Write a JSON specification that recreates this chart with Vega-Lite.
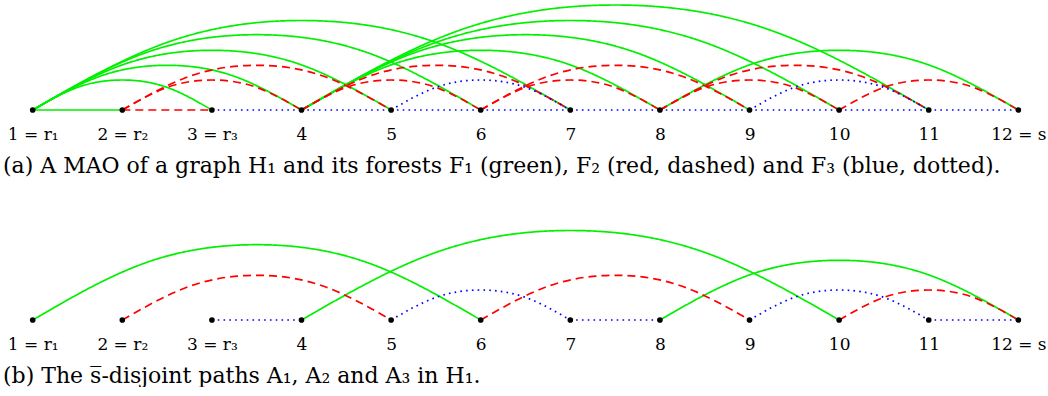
{
  "$schema": "https://vega.github.io/schema/vega-lite/v6.json",
  "padding": 0,
  "spacing": 33,
  "background": "white",
  "config": {
    "view": {"stroke": null},
    "title": {"font": "DejaVu Serif", "fontSize": 22, "fontWeight": "normal", "color": "black", "anchor": "start", "orient": "bottom", "offset": 14, "dx": 3}
  },
  "datasets": {
    "nodes": [{"n":1},{"n":2},{"n":3},{"n":4},{"n":5},{"n":6},{"n":7},{"n":8},{"n":9},{"n":10},{"n":11},{"n":12}],
    "edgesA": [
      {"edge":"1-2","f":"F1","x":1,"h":0},{"edge":"1-2","f":"F1","x":2,"h":0},
      {"edge":"1-3","f":"F1","x":1,"h":0},{"edge":"1-3","f":"F1","x":1.5,"h":22.6},{"edge":"1-3","f":"F1","x":2,"h":30},{"edge":"1-3","f":"F1","x":2.5,"h":22.6},{"edge":"1-3","f":"F1","x":3,"h":0},
      {"edge":"1-4","f":"F1","x":1,"h":0},{"edge":"1-4","f":"F1","x":1.75,"h":33.7},{"edge":"1-4","f":"F1","x":2.5,"h":44.7},{"edge":"1-4","f":"F1","x":3.25,"h":33.7},{"edge":"1-4","f":"F1","x":4,"h":0},
      {"edge":"1-5","f":"F1","x":1,"h":0},{"edge":"1-5","f":"F1","x":2,"h":45.1},{"edge":"1-5","f":"F1","x":3,"h":59.7},{"edge":"1-5","f":"F1","x":4,"h":45.1},{"edge":"1-5","f":"F1","x":5,"h":0},
      {"edge":"1-6","f":"F1","x":1,"h":0},{"edge":"1-6","f":"F1","x":2.25,"h":56.9},{"edge":"1-6","f":"F1","x":3.5,"h":75.3},{"edge":"1-6","f":"F1","x":4.75,"h":56.9},{"edge":"1-6","f":"F1","x":6,"h":0},
      {"edge":"1-7","f":"F1","x":1,"h":0},{"edge":"1-7","f":"F1","x":2.5,"h":67.6},{"edge":"1-7","f":"F1","x":4,"h":89.5},{"edge":"1-7","f":"F1","x":5.5,"h":67.6},{"edge":"1-7","f":"F1","x":7,"h":0},
      {"edge":"4-8","f":"F1","x":4,"h":0},{"edge":"4-8","f":"F1","x":5,"h":45.1},{"edge":"4-8","f":"F1","x":6,"h":59.7},{"edge":"4-8","f":"F1","x":7,"h":45.1},{"edge":"4-8","f":"F1","x":8,"h":0},
      {"edge":"4-9","f":"F1","x":4,"h":0},{"edge":"4-9","f":"F1","x":5.25,"h":56.9},{"edge":"4-9","f":"F1","x":6.5,"h":75.3},{"edge":"4-9","f":"F1","x":7.75,"h":56.9},{"edge":"4-9","f":"F1","x":9,"h":0},
      {"edge":"4-10","f":"F1","x":4,"h":0},{"edge":"4-10","f":"F1","x":5.5,"h":67.6},{"edge":"4-10","f":"F1","x":7,"h":89.5},{"edge":"4-10","f":"F1","x":8.5,"h":67.6},{"edge":"4-10","f":"F1","x":10,"h":0},
      {"edge":"4-11","f":"F1","x":4,"h":0},{"edge":"4-11","f":"F1","x":5.75,"h":79.3},{"edge":"4-11","f":"F1","x":7.5,"h":105},{"edge":"4-11","f":"F1","x":9.25,"h":79.3},{"edge":"4-11","f":"F1","x":11,"h":0},
      {"edge":"8-12","f":"F1","x":8,"h":0},{"edge":"8-12","f":"F1","x":9,"h":45.1},{"edge":"8-12","f":"F1","x":10,"h":59.7},{"edge":"8-12","f":"F1","x":11,"h":45.1},{"edge":"8-12","f":"F1","x":12,"h":0},
      {"edge":"2-3","f":"F2","x":2,"h":0},{"edge":"2-3","f":"F2","x":3,"h":0},
      {"edge":"2-4","f":"F2","x":2,"h":0},{"edge":"2-4","f":"F2","x":2.5,"h":22.6},{"edge":"2-4","f":"F2","x":3,"h":30},{"edge":"2-4","f":"F2","x":3.5,"h":22.6},{"edge":"2-4","f":"F2","x":4,"h":0},
      {"edge":"2-5","f":"F2","x":2,"h":0},{"edge":"2-5","f":"F2","x":2.75,"h":33.7},{"edge":"2-5","f":"F2","x":3.5,"h":44.7},{"edge":"2-5","f":"F2","x":4.25,"h":33.7},{"edge":"2-5","f":"F2","x":5,"h":0},
      {"edge":"4-6","f":"F2","x":4,"h":0},{"edge":"4-6","f":"F2","x":4.5,"h":22.6},{"edge":"4-6","f":"F2","x":5,"h":30},{"edge":"4-6","f":"F2","x":5.5,"h":22.6},{"edge":"4-6","f":"F2","x":6,"h":0},
      {"edge":"4-7","f":"F2","x":4,"h":0},{"edge":"4-7","f":"F2","x":4.75,"h":33.7},{"edge":"4-7","f":"F2","x":5.5,"h":44.7},{"edge":"4-7","f":"F2","x":6.25,"h":33.7},{"edge":"4-7","f":"F2","x":7,"h":0},
      {"edge":"6-8","f":"F2","x":6,"h":0},{"edge":"6-8","f":"F2","x":6.5,"h":22.6},{"edge":"6-8","f":"F2","x":7,"h":30},{"edge":"6-8","f":"F2","x":7.5,"h":22.6},{"edge":"6-8","f":"F2","x":8,"h":0},
      {"edge":"6-9","f":"F2","x":6,"h":0},{"edge":"6-9","f":"F2","x":6.75,"h":33.7},{"edge":"6-9","f":"F2","x":7.5,"h":44.7},{"edge":"6-9","f":"F2","x":8.25,"h":33.7},{"edge":"6-9","f":"F2","x":9,"h":0},
      {"edge":"8-10","f":"F2","x":8,"h":0},{"edge":"8-10","f":"F2","x":8.5,"h":22.6},{"edge":"8-10","f":"F2","x":9,"h":30},{"edge":"8-10","f":"F2","x":9.5,"h":22.6},{"edge":"8-10","f":"F2","x":10,"h":0},
      {"edge":"8-11","f":"F2","x":8,"h":0},{"edge":"8-11","f":"F2","x":8.75,"h":33.7},{"edge":"8-11","f":"F2","x":9.5,"h":44.7},{"edge":"8-11","f":"F2","x":10.25,"h":33.7},{"edge":"8-11","f":"F2","x":11,"h":0},
      {"edge":"10-12","f":"F2","x":10,"h":0},{"edge":"10-12","f":"F2","x":10.5,"h":22.6},{"edge":"10-12","f":"F2","x":11,"h":30},{"edge":"10-12","f":"F2","x":11.5,"h":22.6},{"edge":"10-12","f":"F2","x":12,"h":0},
      {"edge":"3-4","f":"F3","x":3,"h":0},{"edge":"3-4","f":"F3","x":4,"h":0},
      {"edge":"4-5","f":"F3","x":4,"h":0},{"edge":"4-5","f":"F3","x":5,"h":0},
      {"edge":"5-6","f":"F3","x":5,"h":0},{"edge":"5-6","f":"F3","x":6,"h":0},
      {"edge":"6-7","f":"F3","x":6,"h":0},{"edge":"6-7","f":"F3","x":7,"h":0},
      {"edge":"7-8","f":"F3","x":7,"h":0},{"edge":"7-8","f":"F3","x":8,"h":0},
      {"edge":"8-9","f":"F3","x":8,"h":0},{"edge":"8-9","f":"F3","x":9,"h":0},
      {"edge":"9-10","f":"F3","x":9,"h":0},{"edge":"9-10","f":"F3","x":10,"h":0},
      {"edge":"10-11","f":"F3","x":10,"h":0},{"edge":"10-11","f":"F3","x":11,"h":0},
      {"edge":"11-12","f":"F3","x":11,"h":0},{"edge":"11-12","f":"F3","x":12,"h":0},
      {"edge":"5-7","f":"F3","x":5,"h":0},{"edge":"5-7","f":"F3","x":5.5,"h":22.6},{"edge":"5-7","f":"F3","x":6,"h":30},{"edge":"5-7","f":"F3","x":6.5,"h":22.6},{"edge":"5-7","f":"F3","x":7,"h":0},
      {"edge":"9-11","f":"F3","x":9,"h":0},{"edge":"9-11","f":"F3","x":9.5,"h":22.6},{"edge":"9-11","f":"F3","x":10,"h":30},{"edge":"9-11","f":"F3","x":10.5,"h":22.6},{"edge":"9-11","f":"F3","x":11,"h":0}
    ],
    "edgesB": [
      {"edge":"1-6","f":"F1","x":1,"h":0},{"edge":"1-6","f":"F1","x":2.25,"h":56.9},{"edge":"1-6","f":"F1","x":3.5,"h":75.3},{"edge":"1-6","f":"F1","x":4.75,"h":56.9},{"edge":"1-6","f":"F1","x":6,"h":0},
      {"edge":"4-10","f":"F1","x":4,"h":0},{"edge":"4-10","f":"F1","x":5.5,"h":67.6},{"edge":"4-10","f":"F1","x":7,"h":89.5},{"edge":"4-10","f":"F1","x":8.5,"h":67.6},{"edge":"4-10","f":"F1","x":10,"h":0},
      {"edge":"8-12","f":"F1","x":8,"h":0},{"edge":"8-12","f":"F1","x":9,"h":45.1},{"edge":"8-12","f":"F1","x":10,"h":59.7},{"edge":"8-12","f":"F1","x":11,"h":45.1},{"edge":"8-12","f":"F1","x":12,"h":0},
      {"edge":"2-5","f":"F2","x":2,"h":0},{"edge":"2-5","f":"F2","x":2.75,"h":33.7},{"edge":"2-5","f":"F2","x":3.5,"h":44.7},{"edge":"2-5","f":"F2","x":4.25,"h":33.7},{"edge":"2-5","f":"F2","x":5,"h":0},
      {"edge":"6-9","f":"F2","x":6,"h":0},{"edge":"6-9","f":"F2","x":6.75,"h":33.7},{"edge":"6-9","f":"F2","x":7.5,"h":44.7},{"edge":"6-9","f":"F2","x":8.25,"h":33.7},{"edge":"6-9","f":"F2","x":9,"h":0},
      {"edge":"10-12","f":"F2","x":10,"h":0},{"edge":"10-12","f":"F2","x":10.5,"h":22.6},{"edge":"10-12","f":"F2","x":11,"h":30},{"edge":"10-12","f":"F2","x":11.5,"h":22.6},{"edge":"10-12","f":"F2","x":12,"h":0},
      {"edge":"3-4","f":"F3","x":3,"h":0},{"edge":"3-4","f":"F3","x":4,"h":0},
      {"edge":"7-8","f":"F3","x":7,"h":0},{"edge":"7-8","f":"F3","x":8,"h":0},
      {"edge":"11-12","f":"F3","x":11,"h":0},{"edge":"11-12","f":"F3","x":12,"h":0},
      {"edge":"5-7","f":"F3","x":5,"h":0},{"edge":"5-7","f":"F3","x":5.5,"h":22.6},{"edge":"5-7","f":"F3","x":6,"h":30},{"edge":"5-7","f":"F3","x":6.5,"h":22.6},{"edge":"5-7","f":"F3","x":7,"h":0},
      {"edge":"9-11","f":"F3","x":9,"h":0},{"edge":"9-11","f":"F3","x":9.5,"h":22.6},{"edge":"9-11","f":"F3","x":10,"h":30},{"edge":"9-11","f":"F3","x":10.5,"h":22.6},{"edge":"9-11","f":"F3","x":11,"h":0}
    ]
  },
  "vconcat": [
    {
      "width": 1048,
      "height": 110,
      "title": {"text": "(a) A MAO of a graph H₁ and its forests F₁ (green), F₂ (red, dashed) and F₃ (blue, dotted)."},
      "layer": [
        {
          "data": {"name": "edgesA"},
          "mark": {"type": "line", "interpolate": "natural", "strokeWidth": 1.7, "clip": false},
          "encoding": {
            "x": {"field": "x", "type": "quantitative", "scale": {"domain": [0.635, 12.331], "nice": false, "zero": false},
                  "axis": {"values": [1,2,3,4,5,6,7,8,9,10,11,12], "format": "d", "title": null, "domain": false, "ticks": false, "grid": false, "labelFont": "DejaVu Serif", "labelFontSize": 17, "labelColor": "black", "labelPadding": 16, "labelFlush": false, "labelOverlap": false, "labelExpr": "datum.value == 1 ? '1 = r₁' : datum.value == 2 ? '2 = r₂' : datum.value == 3 ? '3 = r₃' : datum.value == 12 ? '12 = s' : datum.label"}},
            "y": {"field": "h", "type": "quantitative", "scale": {"domain": [0, 110], "nice": false, "zero": false}, "axis": null},
            "detail": {"field": "edge"},
            "color": {"field": "f", "type": "nominal", "scale": {"domain": ["F1", "F2", "F3"], "range": ["#00f000", "#ff0000", "#0000ff"]}, "legend": null},
            "strokeDash": {"field": "f", "type": "nominal", "scale": {"domain": ["F1", "F2", "F3"], "range": [[1, 0], [8, 5], [1.6, 4.2]]}, "legend": null}
          }
        },
        {
          "data": {"name": "nodes"},
          "mark": {"type": "point", "filled": true, "color": "black", "size": 32, "opacity": 1, "clip": false},
          "encoding": {
            "x": {"field": "n", "type": "quantitative"},
            "y": {"datum": 0}
          }
        }
      ]
    },
    {
      "width": 1048,
      "height": 110,
      "title": {"text": "(b) The s̅-disjoint paths A₁, A₂ and A₃ in H₁."},
      "layer": [
        {
          "data": {"name": "edgesB"},
          "mark": {"type": "line", "interpolate": "natural", "strokeWidth": 1.7, "clip": false},
          "encoding": {
            "x": {"field": "x", "type": "quantitative", "scale": {"domain": [0.635, 12.331], "nice": false, "zero": false},
                  "axis": {"values": [1,2,3,4,5,6,7,8,9,10,11,12], "format": "d", "title": null, "domain": false, "ticks": false, "grid": false, "labelFont": "DejaVu Serif", "labelFontSize": 17, "labelColor": "black", "labelPadding": 16, "labelFlush": false, "labelOverlap": false, "labelExpr": "datum.value == 1 ? '1 = r₁' : datum.value == 2 ? '2 = r₂' : datum.value == 3 ? '3 = r₃' : datum.value == 12 ? '12 = s' : datum.label"}},
            "y": {"field": "h", "type": "quantitative", "scale": {"domain": [0, 110], "nice": false, "zero": false}, "axis": null},
            "detail": {"field": "edge"},
            "color": {"field": "f", "type": "nominal", "scale": {"domain": ["F1", "F2", "F3"], "range": ["#00f000", "#ff0000", "#0000ff"]}, "legend": null},
            "strokeDash": {"field": "f", "type": "nominal", "scale": {"domain": ["F1", "F2", "F3"], "range": [[1, 0], [8, 5], [1.6, 4.2]]}, "legend": null}
          }
        },
        {
          "data": {"name": "nodes"},
          "mark": {"type": "point", "filled": true, "color": "black", "size": 32, "opacity": 1, "clip": false},
          "encoding": {
            "x": {"field": "n", "type": "quantitative"},
            "y": {"datum": 0}
          }
        }
      ]
    }
  ]
}
